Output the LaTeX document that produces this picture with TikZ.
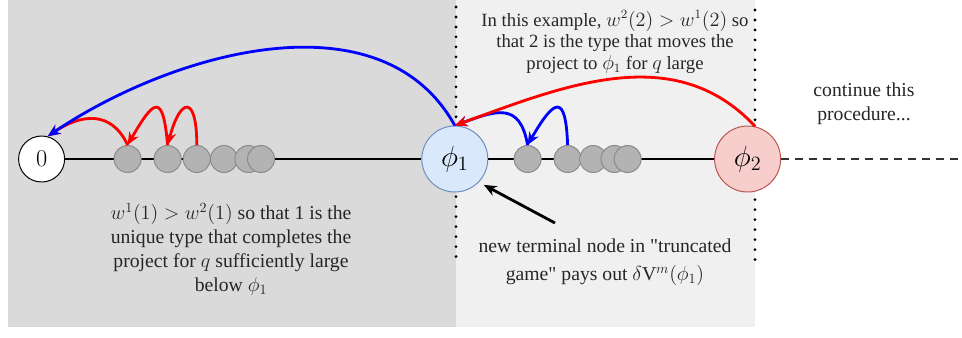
\documentclass[tikz,border=0pt]{standalone}
\usepackage{fontspec}
\setmainfont{Liberation Serif}[Ligatures=TeXOff]
\usetikzlibrary{arrows.meta,positioning}
\definecolor{dk}{HTML}{DADADA}
\definecolor{lg}{HTML}{F0F0F0}
\definecolor{bfill}{HTML}{DAE8FC}
\definecolor{bline}{HTML}{6C8EBF}
\definecolor{rfill}{HTML}{F8CECC}
\definecolor{rline}{HTML}{B85450}
\definecolor{gfill}{HTML}{B3B3B3}
\definecolor{gline}{HTML}{8A8A8A}
\tikzset{
  state/.style={circle,draw,line width=0.7pt,inner sep=0pt,minimum size=1.65cm,font=\fontsize{21}{25}\selectfont},
  ball/.style={circle,draw=gline,fill=gfill,line width=0.7pt,inner sep=0pt,minimum size=0.675cm},
  ar/.style={-{Stealth[length=9pt,width=7.5pt]},line width=2pt},
  txt/.style={align=center,font=\fontsize{14}{17}\selectfont,text=black!85},
  sep/.style={line width=2.2pt,dash pattern=on 0pt off 7.1pt,line cap=round},
}

\begin{document}
\begin{tikzpicture}
  \useasboundingbox (0,0) rectangle (24.05,-8.425);
  % shaded regions and separators
  \fill[dk] (0.2,0) rectangle (11.4,-8.17);
  \fill[lg] (11.4,0) rectangle (18.875,-8.17);
  \draw[sep] (11.4,-0.175) -- (11.4,-6.625);
  \draw[sep] (18.875,-0.25) -- (18.875,-6.7);

  \node[state,minimum size=1.15cm,fill=white,font=\fontsize{19}{22}\selectfont] (zero) at (1.04,-3.975) {$0$};
  \node[state,draw=bline,fill=bfill] (phi1) at (11.37,-3.975) {$\phi_1$};
  \node[state,draw=rline,fill=rfill] (phi2) at (18.69,-3.975) {$\phi_2$};
  \coordinate (far) at (24.05,-3.975);
  \draw[line width=1.4pt] (zero) -- (phi1) -- (phi2);
  \draw[line width=2pt,draw=black!80,dash pattern=on 5.7pt off 4.3pt] (phi2) -- (far);

  \foreach \x [count=\i] in {3.19,4.19,4.92,5.6,6.21,6.525}
    \node[ball] (c\i) at (\x,-3.975) {};
  \foreach \x [count=\i] in {13.19,14.19,14.83,15.36,15.69}
    \node[ball] (d\i) at (\x,-3.975) {};

  % moves
  \draw[ar,red] (c1.north) to[out=115,in=34,looseness=1.25] (zero.75);
  \draw[ar,red] (c2.north) to[out=95,in=60,looseness=3.4] (c1.north);
  \draw[ar,red] (c3.north) to[out=90,in=75,looseness=4.4] (c2.north);
  \draw[ar,blue] (phi1.north) to[out=119,in=34,looseness=0.95] (zero.75);
  \draw[ar,blue] (d1.north) to[out=100,in=20,looseness=1.5] (phi1.north);
  \draw[ar,blue] (d2.north) to[out=92,in=60,looseness=3.4] (d1.north);
  \draw[ar,red] (phi2.77) to[out=133,in=20] (phi1.north);

  \node[txt] (lownote) at (5.775,-6.225) {$w^1(1) > w^2(1)$ so that 1 is the\\unique type that completes the\\project for $q$ sufficiently large\\below $\phi_1$};
  \node[txt,font=\fontsize{13.3}{15.3}\selectfont] (topnote) at (15.375,-1.05) {In this example, $w^2(2) > w^1(2)$ so\\that 2 is the type that moves the\\project to $\phi_1$ for $q$ large};
  \node[txt,font=\fontsize{14}{20}\selectfont] (newnote) at (15.125,-6.55) {new terminal node in "truncated\\game" pays out $\delta\mathrm{V}^m(\phi_1)$};
  \node[txt] (more) at (21.6,-2.6) {continue this\\procedure...};
  \coordinate (tail) at (13.875,-5.575);
  \draw[ar,shorten >=4pt] (tail) -- (phi1.-44);
\end{tikzpicture}
\end{document}
